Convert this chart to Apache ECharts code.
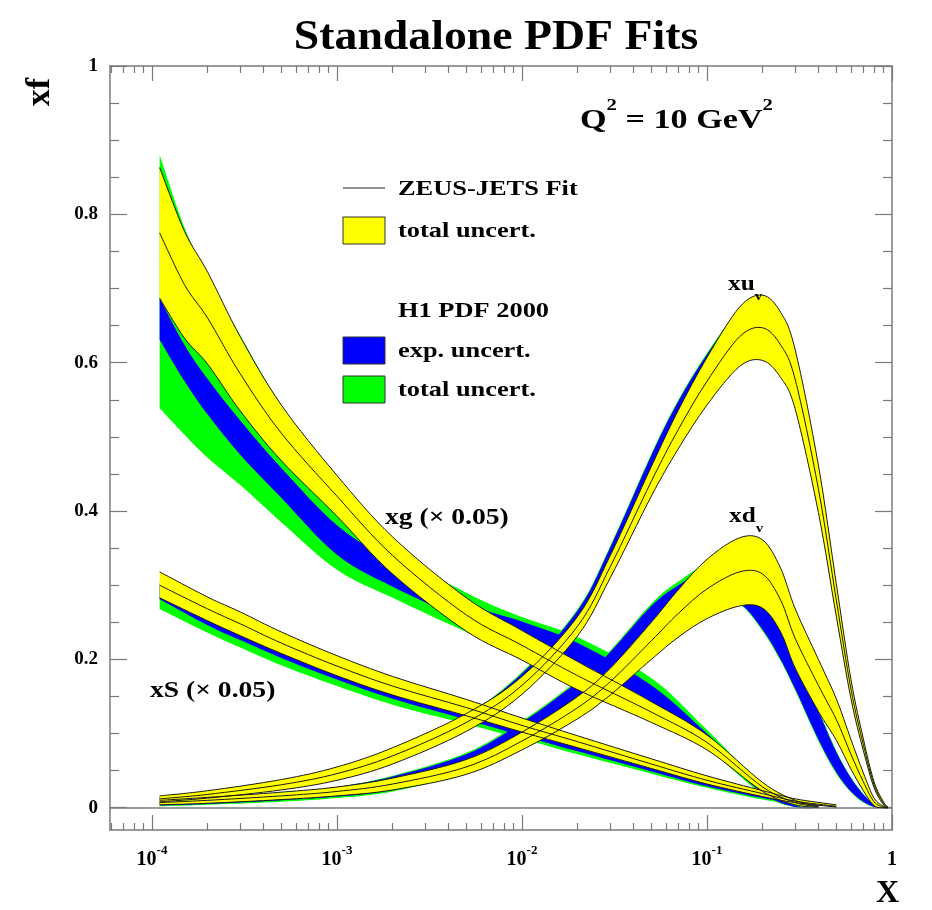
<!DOCTYPE html>
<html><head><meta charset="utf-8">
<script src="https://cdn.jsdelivr.net/npm/echarts@6/dist/echarts.min.js"></script>
<style>html,body{margin:0;padding:0;background:#fff}#c{width:932px;height:910px}</style>
</head><body><div id="c"></div>
<script>
// ---------------- data ----------------
const xTickLabels = ['10-4', '10-3', '10-2', '10-1', '1'];
const yTickLabels = [0, 0.2, 0.4, 0.6, 0.8, 1];

// gluon xg (x 0.05)
const xgX      = [1.1e-4, 1.5e-4, 2e-4, 3e-4, 5e-4, 1e-3, 2e-3, 5e-3, 1e-2, 2e-2, 5e-2, 0.1, 0.2, 0.3, 0.4];
const zXgTop   = [0.863, 0.777, 0.722, 0.635, 0.543, 0.448, 0.365, 0.283, 0.239, 0.197, 0.143, 0.098, 0.034, 0.010, 0.002];
const zXgCen   = [0.775, 0.705, 0.660, 0.585, 0.505, 0.420, 0.340, 0.260, 0.219, 0.178, 0.129, 0.088, 0.028, 0.007, 0.0015];
const zXgBot   = [0.687, 0.633, 0.598, 0.535, 0.468, 0.393, 0.315, 0.238, 0.199, 0.159, 0.115, 0.078, 0.022, 0.004, 0.001];
const hXgTotHi = [0.880, 0.782, 0.718, 0.637, 0.543, 0.442, 0.348, 0.290, 0.257, 0.230, 0.175, 0.105, 0.030, 0.004, 0.001];
const hXgExpHi = [0.687, 0.624, 0.578, 0.522, 0.458, 0.381, 0.332, 0.276, 0.251, 0.222, 0.165, 0.100, 0.028, 0.003, 0.001];
const hXgExpLo = [0.631, 0.575, 0.530, 0.476, 0.418, 0.341, 0.298, 0.253, 0.225, 0.194, 0.140, 0.085, 0.020, 0.001, 0.000];
const hXgTotLo = [0.539, 0.503, 0.472, 0.435, 0.385, 0.321, 0.283, 0.237, 0.206, 0.175, 0.128, 0.080, 0.018, 0.001, 0.000];

// sea xS (x 0.05)
const xsX      = [1.1e-4, 2e-4, 3e-4, 5e-4, 1e-3, 2e-3, 5e-3, 1e-2, 2e-2, 5e-2, 0.1, 0.2, 0.3, 0.5];
const zXsTop   = [0.318, 0.284, 0.264, 0.237, 0.205, 0.177, 0.146, 0.121, 0.097, 0.066, 0.043, 0.023, 0.012, 0.004];
const zXsCen   = [0.300, 0.268, 0.248, 0.222, 0.191, 0.164, 0.135, 0.111, 0.089, 0.059, 0.037, 0.019, 0.009, 0.002];
const zXsBot   = [0.283, 0.252, 0.232, 0.208, 0.178, 0.152, 0.124, 0.102, 0.081, 0.053, 0.032, 0.015, 0.007, 0.001];
const hXsTotHi = [0.305, 0.273, 0.253, 0.227, 0.196, 0.169, 0.140, 0.116, 0.094, 0.064, 0.041, 0.021, 0.010, 0.003];
const hXsExpHi = [0.300, 0.268, 0.248, 0.222, 0.191, 0.164, 0.135, 0.111, 0.089, 0.059, 0.037, 0.019, 0.009, 0.002];
const hXsExpLo = [0.281, 0.246, 0.226, 0.202, 0.173, 0.147, 0.119, 0.097, 0.076, 0.049, 0.029, 0.013, 0.006, 0.001];
const hXsTotLo = [0.268, 0.236, 0.216, 0.192, 0.164, 0.139, 0.113, 0.093, 0.072, 0.046, 0.027, 0.011, 0.005, 0.001];

// valence quarks
const valX     = [1.1e-4, 2e-4, 5e-4, 1e-3, 2e-3, 5e-3, 1e-2, 2e-2, 3e-2, 5e-2, 0.07, 0.1, 0.15, 0.2, 0.25, 0.3, 0.4, 0.5, 0.6, 0.7, 0.8, 0.9, 0.95];
const zUvTop   = [0.016, 0.023, 0.038, 0.055, 0.081, 0.127, 0.177, 0.258, 0.340, 0.460, 0.536, 0.607, 0.675, 0.691, 0.668, 0.617, 0.462, 0.302, 0.173, 0.093, 0.035, 0.008, 0.001];
const zUvCen   = [0.012, 0.018, 0.031, 0.046, 0.070, 0.115, 0.165, 0.245, 0.325, 0.440, 0.510, 0.575, 0.635, 0.647, 0.624, 0.577, 0.430, 0.280, 0.160, 0.085, 0.031, 0.006, 0.001];
const zUvBot   = [0.008, 0.013, 0.024, 0.037, 0.059, 0.103, 0.153, 0.232, 0.310, 0.420, 0.484, 0.543, 0.595, 0.603, 0.580, 0.537, 0.398, 0.258, 0.147, 0.077, 0.027, 0.004, 0.000];
const hUvTotHi = [0.015, 0.022, 0.036, 0.053, 0.079, 0.125, 0.183, 0.268, 0.353, 0.477, 0.550, 0.613, 0.671, 0.682, 0.659, 0.608, 0.453, 0.293, 0.166, 0.088, 0.032, 0.007, 0.001];
const hUvExpHi = [0.015, 0.022, 0.036, 0.053, 0.079, 0.125, 0.181, 0.266, 0.351, 0.475, 0.548, 0.611, 0.670, 0.681, 0.658, 0.607, 0.452, 0.292, 0.165, 0.088, 0.032, 0.007, 0.001];
const hUvExpLo = [0.010, 0.015, 0.027, 0.040, 0.062, 0.106, 0.158, 0.237, 0.315, 0.425, 0.490, 0.550, 0.600, 0.610, 0.590, 0.545, 0.405, 0.262, 0.150, 0.079, 0.028, 0.004, 0.000];
const hUvTotLo = [0.009, 0.014, 0.025, 0.038, 0.060, 0.104, 0.156, 0.235, 0.313, 0.423, 0.488, 0.548, 0.598, 0.608, 0.588, 0.543, 0.403, 0.260, 0.148, 0.078, 0.027, 0.004, 0.000];

const zDvTop   = [0.010, 0.014, 0.021, 0.028, 0.040, 0.065, 0.102, 0.150, 0.188, 0.250, 0.294, 0.335, 0.364, 0.361, 0.323, 0.268, 0.200, 0.147, 0.092, 0.047, 0.013, 0.002, 0.000];
const zDvCen   = [0.007, 0.010, 0.016, 0.022, 0.032, 0.055, 0.090, 0.135, 0.170, 0.225, 0.262, 0.295, 0.318, 0.315, 0.280, 0.228, 0.165, 0.119, 0.072, 0.035, 0.008, 0.001, 0.000];
const zDvBot   = [0.004, 0.006, 0.011, 0.016, 0.024, 0.045, 0.078, 0.120, 0.152, 0.200, 0.230, 0.255, 0.272, 0.269, 0.237, 0.188, 0.130, 0.091, 0.052, 0.023, 0.003, 0.000, 0.000];
const hDvTotHi = [0.009, 0.013, 0.020, 0.028, 0.043, 0.074, 0.117, 0.172, 0.212, 0.275, 0.305, 0.326, 0.314, 0.282, 0.242, 0.202, 0.132, 0.077, 0.041, 0.019, 0.005, 0.001, 0.000];
const hDvExpHi = [0.009, 0.013, 0.020, 0.028, 0.042, 0.072, 0.115, 0.170, 0.210, 0.272, 0.300, 0.320, 0.310, 0.280, 0.240, 0.200, 0.130, 0.075, 0.040, 0.018, 0.005, 0.001, 0.000];
const hDvExpLo = [0.003, 0.005, 0.010, 0.015, 0.024, 0.050, 0.088, 0.140, 0.175, 0.235, 0.265, 0.285, 0.275, 0.240, 0.200, 0.160, 0.092, 0.048, 0.022, 0.008, 0.001, 0.000, 0.000];
const hDvTotLo = [0.002, 0.004, 0.008, 0.013, 0.022, 0.048, 0.086, 0.138, 0.173, 0.233, 0.263, 0.283, 0.274, 0.238, 0.198, 0.158, 0.090, 0.046, 0.021, 0.007, 0.001, 0.000, 0.000];

// ---------------- styles ----------------
const FONT = '"Liberation Serif", "Times New Roman", serif';
const YELLOW = '#ffff00', BLUE = '#0000ff', GREEN = '#00ff00';
const XMIN = 5.93e-5, XMAX = 1, YMIN = -0.03, YMAX = 1;
const AX = '#7a7a7a';

// smooth (Catmull-Rom) path through screen points
function pt(p) { return p[0].toFixed(2) + ' ' + p[1].toFixed(2); }
function smoothSeg(p) {
  let d = '';
  const k = 1 / 6;
  for (let i = 0; i < p.length - 1; i++) {
    const p0 = p[i - 1] || p[i], p1 = p[i], p2 = p[i + 1], p3 = p[i + 2] || p[i + 1];
    const c1 = [p1[0] + (p2[0] - p0[0]) * k, p1[1] + (p2[1] - p0[1]) * k];
    const c2 = [p2[0] - (p3[0] - p1[0]) * k, p2[1] - (p3[1] - p1[1]) * k];
    d += ' C' + pt(c1) + ' ' + pt(c2) + ' ' + pt(p2);
  }
  return d;
}

function bandSeries(x, lo, hi, color, z) {
  return {
    type: 'custom', coordinateSystem: 'cartesian2d', xAxisIndex: 0, yAxisIndex: 0,
    z: z, silent: true, animation: false, clip: true,
    data: x.map((v, i) => [v, lo[i], hi[i]]),
    encode: { x: 0, y: [1, 2] },
    renderItem: function (params, api) {
      if (params.dataIndexInside !== 0) return null;
      const n = params.dataInsideLength;
      const up = [], dn = [];
      for (let i = 0; i < n; i++) {
        up.push(api.coord([api.value(0, i), api.value(2, i)]));
        dn.push(api.coord([api.value(0, i), api.value(1, i)]));
      }
      dn.reverse();
      const d = 'M' + pt(up[0]) + smoothSeg(up) + ' L' + pt(dn[0]) + smoothSeg(dn) + ' Z';
      return { type: 'path', shape: { pathData: d }, style: { fill: color, stroke: null } };
    }
  };
}
function curveSeries(x, y, z) {
  return {
    type: 'custom', coordinateSystem: 'cartesian2d', xAxisIndex: 0, yAxisIndex: 0,
    z: z, silent: true, animation: false, clip: true,
    data: x.map((v, i) => [v, y[i]]),
    encode: { x: 0, y: 1 },
    renderItem: function (params, api) {
      if (params.dataIndexInside !== 0) return null;
      const n = params.dataInsideLength;
      const p = [];
      for (let i = 0; i < n; i++) p.push(api.coord([api.value(0, i), api.value(1, i)]));
      return { type: 'path', shape: { pathData: 'M' + pt(p[0]) + smoothSeg(p) },
        style: { fill: null, stroke: '#1a1a1a', lineWidth: 1 } };
    }
  };
}
function zeus(x, top, cen, bot) {
  return [bandSeries(x, bot, top, YELLOW, 4), curveSeries(x, top, 5), curveSeries(x, cen, 5), curveSeries(x, bot, 5)];
}

const series = [].concat(
  [bandSeries(xgX, hXgTotLo, hXgTotHi, GREEN, 2),
   bandSeries(xsX, hXsTotLo, hXsTotHi, GREEN, 2),
   bandSeries(valX, hUvTotLo, hUvTotHi, GREEN, 2),
   bandSeries(valX, hDvTotLo, hDvTotHi, GREEN, 2),
   bandSeries(xgX, hXgExpLo, hXgExpHi, BLUE, 3),
   bandSeries(xsX, hXsExpLo, hXsExpHi, BLUE, 3),
   bandSeries(valX, hUvExpLo, hUvExpHi, BLUE, 3),
   bandSeries(valX, hDvExpLo, hDvExpHi, BLUE, 3)],
  zeus(xsX, zXsTop, zXsCen, zXsBot),
  zeus(valX, zDvTop, zDvCen, zDvBot),
  zeus(valX, zUvTop, zUvCen, zUvBot),
  zeus(xgX, zXgTop, zXgCen, zXgBot)
);
series.push({ type: 'line', data: [], xAxisIndex: 0, yAxisIndex: 0, z: 1, silent: true, animation: false,
  markLine: { symbol: 'none', silent: true, label: { show: false }, animation: false,
    lineStyle: { color: AX, width: 1.5, type: 'solid' }, data: [{ yAxis: 0 }] } });

// tick positions for the decoration axes (log10 space)
const LMIN = Math.log10(XMIN);
const majorLog = [-4, -3, -2, -1, 0];
const minorLog = [];
for (let e = -5; e < 0; e++) for (let k = 2; k <= 9; k++) {
  const v = Math.log10(k) + e; if (v > LMIN) minorLog.push(v);
}
const yMinor = [];
for (let i = 1; i < 20; i++) if (i % 4 !== 0) yMinor.push(+(i * 0.05).toFixed(2));

function decoX(pos, vals, len, line) {
  return { type: 'value', position: pos, min: LMIN, max: 0, gridIndex: 0,
    axisLine: { show: line, onZero: false, lineStyle: { color: AX, width: 1.5 } },
    axisTick: { show: true, inside: true, length: len, customValues: vals, lineStyle: { color: AX, width: 1.2 } },
    axisLabel: { show: false }, splitLine: { show: false } };
}
function decoY(pos, vals, len, line, labels) {
  return { type: 'value', position: pos, min: YMIN, max: YMAX, gridIndex: 0,
    axisLine: { show: line, onZero: false, lineStyle: { color: AX, width: 1.5 } },
    axisTick: { show: true, inside: true, length: len, customValues: vals, lineStyle: { color: AX, width: 1.2 } },
    axisLabel: labels ? { show: true, customValues: vals, margin: 12, color: '#000',
      fontFamily: FONT, fontWeight: 'bold', fontSize: 19,
      formatter: v => (v === 0 ? '0' : v === 1 ? '1' : v.toFixed(1)) } : { show: false },
    splitLine: { show: false } };
}

const supRich = {
  b: { fontFamily: FONT, fontWeight: 'bold', fontSize: 20, color: '#000', verticalAlign: 'bottom', lineHeight: 26 },
  s: { fontFamily: FONT, fontWeight: 'bold', fontSize: 13, color: '#000', verticalAlign: 'top', lineHeight: 26 }
};

function txt(x, y, text, size, sx) {
  return { type: 'text', x: x, y: y, scaleX: sx, z: 100,
    style: { text: text, font: 'bold ' + size + 'px ' + FONT, fill: '#000',
      align: 'left', verticalAlign: 'middle', textAlign: 'left', textVerticalAlign: 'middle' } };
}
const subRich = {
  a: { font: 'bold 22px ' + FONT, fill: '#000', verticalAlign: 'top', lineHeight: 30 },
  v: { font: 'bold 13px ' + FONT, fill: '#000', verticalAlign: 'bottom', lineHeight: 30 }
};

const option = {
  animation: false,
  backgroundColor: '#ffffff',
  grid: { left: 110, right: 40, top: 66, bottom: 80, containLabel: false },
  xAxis: [
    { type: 'log', logBase: 10, min: XMIN, max: XMAX, position: 'bottom',
      axisLine: { show: true, onZero: false, lineStyle: { color: AX, width: 1.5 } },
      axisTick: { show: true, inside: true, length: 15, lineStyle: { color: AX, width: 1.2 } },
      axisLabel: { show: true, margin: 14, showMinLabel: false, rich: supRich,
        formatter: v => {
          const l = Math.log10(v), e = Math.round(l);
          if (Math.abs(l - e) > 1e-6) return '';
          const t = xTickLabels[e + 4];
          return e === 0 ? '{b|' + t + '}' : '{b|10}{s|' + t.slice(2) + '}';
        } },
      splitLine: { show: false }, minorTick: { show: false } },
    decoX('bottom', minorLog, 7, false),
    decoX('top', majorLog, 15, true),
    decoX('top', minorLog, 7, false)
  ],
  yAxis: [
    decoY('left', yTickLabels, 17, true, true),
    decoY('left', yMinor, 9, false, false),
    decoY('right', yTickLabels, 17, true, false),
    decoY('right', yMinor, 9, false, false)
  ],
  series: series,
  graphic: [
    { type: 'text', x: 496, y: 38, scaleX: 1.09, z: 100,
      style: { text: 'Standalone PDF Fits', font: 'bold 42px ' + FONT, fill: '#000',
        align: 'center', verticalAlign: 'middle', textAlign: 'center', textVerticalAlign: 'middle' } },
    { type: 'text', x: 40, y: 92, rotation: Math.PI / 2, z: 100,
      style: { text: 'xf', font: 'bold 34px ' + FONT, fill: '#000',
        align: 'center', verticalAlign: 'middle', textAlign: 'center', textVerticalAlign: 'middle' } },
    txt(876, 894, 'X', 32, 1),
    { type: 'text', x: 580, y: 116, scaleX: 1.22, z: 100,
      style: { text: '{a|Q}{s|2}{a| = 10 GeV}{s|2}', align: 'left', verticalAlign: 'middle',
        textAlign: 'left', textVerticalAlign: 'middle', rich: {
        a: { font: 'bold 28px ' + FONT, fill: '#000', verticalAlign: 'bottom', lineHeight: 38 },
        s: { font: 'bold 17px ' + FONT, fill: '#000', verticalAlign: 'top', lineHeight: 38 } } } },
    { type: 'line', z: 100, shape: { x1: 343, y1: 188, x2: 385, y2: 188 }, style: { stroke: '#222', lineWidth: 1.2 } },
    txt(398, 189, 'ZEUS-JETS Fit', 22, 1.2),
    { type: 'rect', z: 100, shape: { x: 343, y: 217, width: 42, height: 27 }, style: { fill: YELLOW, stroke: '#333', lineWidth: 1 } },
    txt(398, 231, 'total uncert.', 22, 1.2),
    txt(398, 311, 'H1 PDF 2000', 22, 1.2),
    { type: 'rect', z: 100, shape: { x: 343, y: 337, width: 42, height: 27 }, style: { fill: BLUE, stroke: '#333', lineWidth: 1 } },
    txt(398, 351, 'exp. uncert.', 22, 1.2),
    { type: 'rect', z: 100, shape: { x: 343, y: 376, width: 42, height: 27 }, style: { fill: GREEN, stroke: '#333', lineWidth: 1 } },
    txt(398, 390, 'total uncert.', 22, 1.2),
    { type: 'text', x: 728, y: 288, scaleX: 1.15, z: 100,
      style: { text: '{a|xu}{v|v}', align: 'left', verticalAlign: 'middle', textAlign: 'left', textVerticalAlign: 'middle', rich: subRich } },
    { type: 'text', x: 729, y: 520, scaleX: 1.15, z: 100,
      style: { text: '{a|xd}{v|v}', align: 'left', verticalAlign: 'middle', textAlign: 'left', textVerticalAlign: 'middle', rich: subRich } },
    txt(385, 518, 'xg (\u00d7 0.05)', 24, 1.15),
    txt(150, 691, 'xS (\u00d7 0.05)', 24, 1.15)
  ]
};
const chart = echarts.init(document.getElementById('c'), null, { renderer: 'canvas' });
chart.setOption(option);
</script>
</body></html>
